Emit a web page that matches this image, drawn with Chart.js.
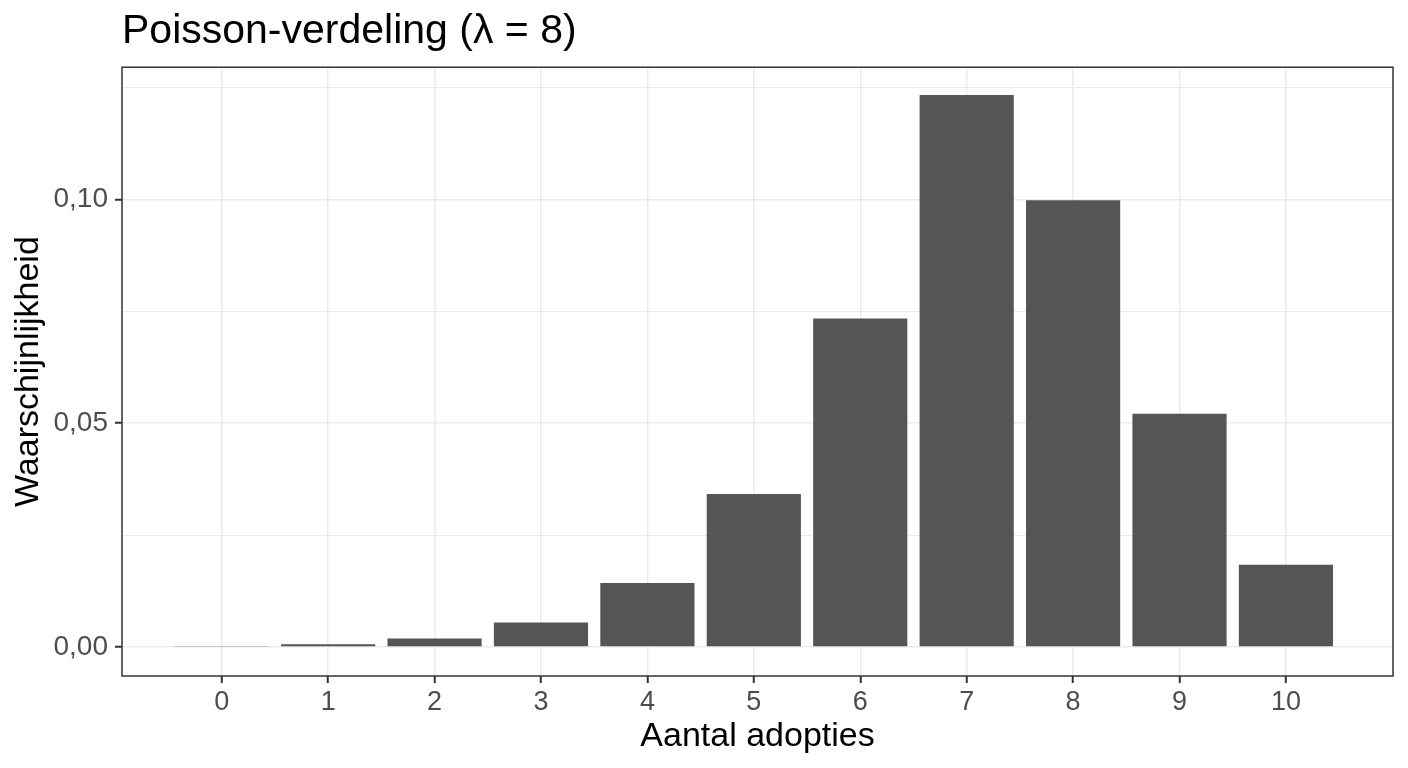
<!DOCTYPE html>
<html lang="nl">
<head>
<meta charset="utf-8">
<title>Poisson-verdeling</title>
<script src="https://cdn.jsdelivr.net/npm/chart.js@4/dist/chart.umd.min.js"></script>
<style>
  html, body { margin: 0; padding: 0; background: #ffffff; }
  #myChart { display: block; }
</style>
</head>
<body>
<canvas id="myChart" width="1408" height="768"></canvas>
<script>
// chart data
let Adopties = [0, 1, 2, 3, 4, 5, 6, 7, 8, 9, 10]; // x values (aantal adopties)
let Kans = [0.0001, 0.0006, 0.0019, 0.0055, 0.0143, 0.0342, 0.0734, 0.1233, 0.0998, 0.0521, 0.0184]; // bar heights
let xTicks = [0, 1, 2, 3, 4, 5, 6, 7, 8, 9, 10]; // x tick labels
let yMajor = [0, 0.05, 0.10]; // labelled y ticks
let yMinor = [0.025, 0.075, 0.125]; // minor grid lines only

let titleText = "Poisson-verdeling (λ = 8)";
let xTitle = "Aantal adopties";
let yTitle = "Waarschijnlijkheid";

let fontFam = "'Liberation Sans', Arial, sans-serif";
let gridCol = "#ebebeb";
let axisCol = "#333333";

let Ctxt = document.getElementById("myChart").getContext("2d");

// panel border like ggplot theme_bw
let panelBorder = {
    id: 'panelBorder',
    afterDatasetsDraw(chart) {
        let a = chart.chartArea;
        let ctx = chart.ctx;
        ctx.save();
        ctx.strokeStyle = axisCol;
        ctx.lineWidth = 1.5;
        ctx.strokeRect(a.left, a.top, a.right - a.left, a.bottom - a.top);
        ctx.restore();
    }
};

let isMajor = function (v) {
    return yMajor.some(m => Math.abs(m - v) < 1e-9);
};

let ChartInst = new Chart(Ctxt, {
    type: "bar",
    data: {
        datasets: [{
            label: 'kans',
            data: Adopties.map((x, i) => ({ x: x, y: Kans[i] })),
            backgroundColor: "#555555",
            borderWidth: 0,
            categoryPercentage: 1.0,
            barPercentage: 0.885,
        }]
    },
    plugins: [panelBorder],
    options: {
        responsive: false,
        devicePixelRatio: 1,
        animation: false,
        layout: { padding: { left: 0, right: 15, top: 0, bottom: 0 } },
        plugins: {
            legend: { display: false },
            tooltip: { enabled: false },
            title: {
                display: true,
                text: titleText,
                align: 'start',
                fullSize: false,
                color: "#000000",
                font: { family: fontFam, size: 41, weight: 'normal', lineHeight: 1.2 },
                padding: { top: 7, bottom: 11 }
            }
        },
        scales: {
            x: {
                type: 'linear',
                min: -0.937,
                max: 11.006,
                offset: false,
                afterBuildTicks: (s) => { s.ticks = xTicks.map(v => ({ value: v })); },
                afterFit: (s) => { s.height = 92; },
                grid: {
                    offset: false,
                    color: gridCol,
                    lineWidth: 1.5,
                    drawTicks: true,
                    tickLength: 7,
                    tickColor: axisCol,
                    tickWidth: 2
                },
                border: { display: false },
                ticks: {
                    color: "#4d4d4d",
                    font: { family: fontFam, size: 27 },
                    padding: 3,
                    maxRotation: 0,
                    callback: (v) => String(v)
                },
                title: {
                    display: true,
                    text: xTitle,
                    color: "#000000",
                    font: { family: fontFam, size: 34, lineHeight: 1.2 },
                    padding: { top: 0, bottom: 11 }
                }
            },
            y: {
                type: 'linear',
                min: -0.00647,
                max: 0.1295,
                afterBuildTicks: (s) => {
                    s.ticks = yMajor.concat(yMinor).sort((a, b) => a - b).map(v => ({ value: v }));
                },
                afterFit: (s) => { s.width = 122; },
                grid: {
                    color: gridCol,
                    lineWidth: (c) => (c.tick && isMajor(c.tick.value)) ? 1.5 : 1,
                    drawTicks: true,
                    tickLength: 7,
                    tickColor: (c) => (c.tick && isMajor(c.tick.value)) ? axisCol : 'rgba(0,0,0,0)',
                    tickWidth: 2
                },
                border: { display: false },
                ticks: {
                    color: "#4d4d4d",
                    font: { family: fontFam, size: 28 },
                    padding: 7,
                    callback: (v) => isMajor(v) ? v.toFixed(2).replace('.', ',') : ''
                },
                title: {
                    display: true,
                    text: yTitle,
                    color: "#000000",
                    font: { family: fontFam, size: 34, lineHeight: 1.2 },
                    padding: { top: 8, bottom: 0 }
                }
            }
        }
    }
});
</script>
</body>
</html>
